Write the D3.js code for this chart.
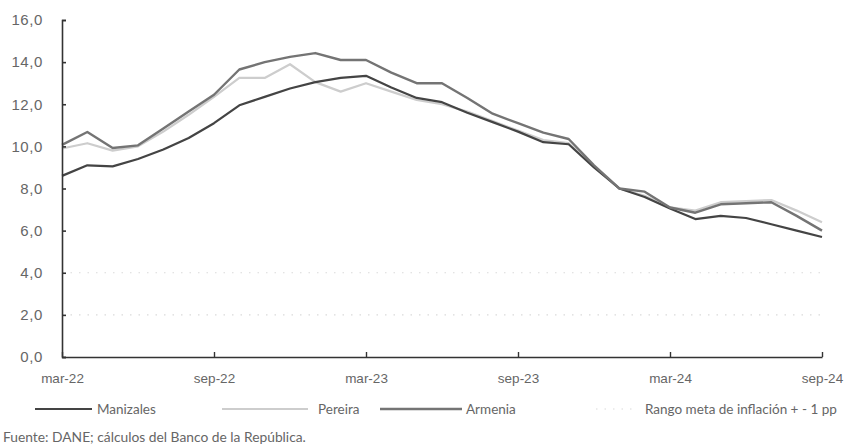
<!DOCTYPE html>
<html>
<head>
<meta charset="utf-8">
<script src="https://cdn.jsdelivr.net/npm/d3@7"></script>
<style>
  html, body { margin: 0; padding: 0; background: #fff; }
  svg { display: block; font-family: Lato, "Open Sans", sans-serif; }
</style>
</head>
<body>
<svg id="chart" width="849" height="448"></svg>
<script>
const months = ["mar-22","abr-22","may-22","jun-22","jul-22","ago-22","sep-22","oct-22","nov-22","dic-22",
  "ene-23","feb-23","mar-23","abr-23","may-23","jun-23","jul-23","ago-23","sep-23","oct-23","nov-23","dic-23",
  "ene-24","feb-24","mar-24","abr-24","may-24","jun-24","jul-24","ago-24","sep-24"];
const tickLabels = ["mar-22","sep-22","mar-23","sep-23","mar-24","sep-24"];
const yTicks = [0,2,4,6,8,10,12,14,16];

const manizales = [8.6,9.1,9.05,9.4,9.85,10.4,11.1,11.95,12.35,12.75,13.05,13.25,13.35,12.8,12.3,12.1,11.6,11.15,10.7,10.2,10.1,9.0,8.0,7.6,7.05,6.55,6.7,6.6,6.3,6.0,5.7];
const pereira   = [9.9,10.15,9.8,10.0,10.7,11.5,12.35,13.25,13.25,13.9,13.05,12.6,13.0,12.6,12.2,12.0,11.65,11.2,10.75,10.3,10.15,9.05,8.0,7.65,7.1,6.95,7.35,7.4,7.45,6.95,6.4];
const armenia   = [10.07,10.68,9.92,10.05,10.85,11.65,12.45,13.65,14.0,14.25,14.43,14.1,14.1,13.5,13.0,13.0,12.3,11.55,11.1,10.65,10.35,9.1,8.0,7.85,7.1,6.85,7.25,7.3,7.35,6.7,6.0];
const bandLow  = months.map(() => 2);
const bandHigh = months.map(() => 4);

const seriesNames = ["Manizales","Pereira","Armenia","Rango meta de inflación + - 1 pp"];

const svg = d3.select("#chart");
const x = d3.scalePoint().domain(months).range([62, 822]);
const y = d3.scaleLinear().domain([0, 16]).range([357, 20]);

const textColor = "#666";
const styles = {
  Manizales: {stroke: "#444", width: 2.2, dash: null},
  Pereira:   {stroke: "#cdcdcd", width: 2.2, dash: null},
  Armenia:   {stroke: "#747474", width: 2.4, dash: null},
  band:      {stroke: "#dadada", width: 1.2, dash: "1.5,7"}
};

const line = d3.line().x((d, i) => x(months[i])).y(d => y(d));

// band lines
[bandHigh, bandLow].forEach(b => {
  svg.append("path").datum(b).attr("d", line)
    .attr("fill", "none").attr("stroke", styles.band.stroke)
    .attr("stroke-width", styles.band.width).attr("stroke-dasharray", styles.band.dash);
});

// series
[["Pereira", pereira], ["Manizales", manizales], ["Armenia", armenia]].forEach(([name, data]) => {
  svg.append("path").datum(data).attr("d", line)
    .attr("fill", "none").attr("stroke", styles[name].stroke)
    .attr("stroke-width", styles[name].width).attr("stroke-linejoin", "round");
});

// y axis
const yAxis = d3.axisLeft(y).tickValues(yTicks).tickSize(-4).tickPadding(19)
  .tickFormat(d => d3.format(".1f")(d).replace(".", ","));
const gy = svg.append("g").attr("transform", "translate(62,0)").call(yAxis);
gy.select(".domain").attr("stroke", "#333").attr("stroke-width", 1.6);
gy.selectAll(".tick line").attr("stroke", "#333").attr("stroke-width", 1.6);
gy.selectAll("text").attr("fill", textColor).style("font-size", "15px").style("letter-spacing", "0.6px");

// x axis
const xAxis = d3.axisBottom(x).tickValues(tickLabels).tickSize(-5).tickPadding(16).tickSizeOuter(0);
const gx = svg.append("g").attr("transform", "translate(0,357)").call(xAxis);
gx.select(".domain").attr("stroke", "#333").attr("stroke-width", 1.6);
gx.selectAll(".tick line").attr("stroke", "#333").attr("stroke-width", 1.4);
gx.selectAll("text").attr("fill", textColor).style("font-size", "13.5px");

// legend
const legend = [
  {name: seriesNames[0], style: styles.Manizales, x1: 35, x2: 92, tx: 97},
  {name: seriesNames[1], style: styles.Pereira, x1: 222, x2: 308, tx: 318},
  {name: seriesNames[2], style: styles.Armenia, x1: 380, x2: 462, tx: 466},
  {name: seriesNames[3], style: styles.band, x1: 596, x2: 632, tx: 645}
];
const lg = svg.append("g").attr("transform", "translate(0,409)");
legend.forEach(l => {
  lg.append("line").attr("x1", l.x1).attr("x2", l.x2).attr("y1", 0).attr("y2", 0)
    .attr("stroke", l.style.stroke).attr("stroke-width", l.style.width)
    .attr("stroke-dasharray", l.style.dash);
  lg.append("text").attr("x", l.tx).attr("y", 0).attr("dy", "0.35em")
    .attr("fill", textColor).style("font-size", "13.5px").text(l.name);
});

svg.append("text").attr("x", 3).attr("y", 437).attr("dy", "0.35em")
  .attr("fill", "#666").style("font-size", "13.8px")
  .text("Fuente: DANE; cálculos del Banco de la República.");
</script>
</body>
</html>
